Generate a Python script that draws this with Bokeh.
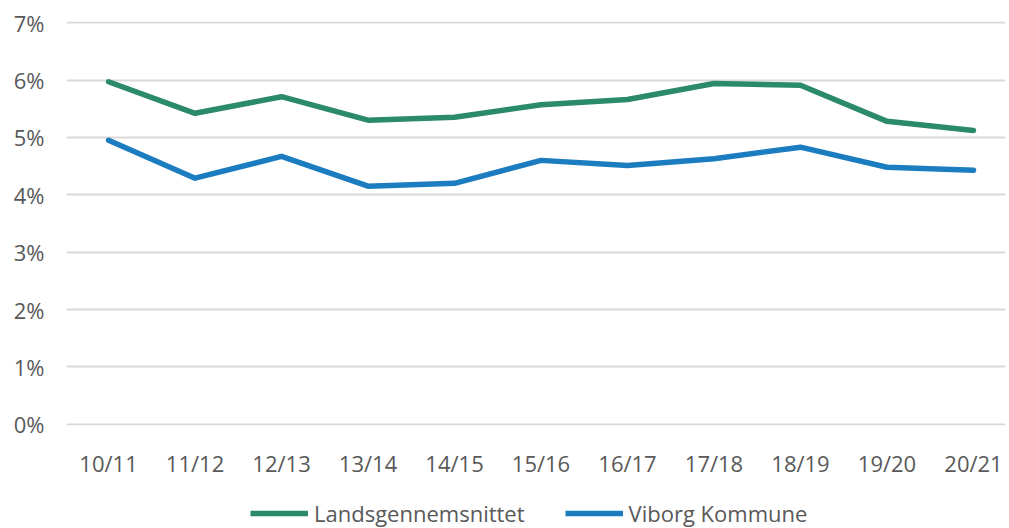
from bokeh.plotting import figure
from bokeh.models import Legend, LegendItem, FixedTicker
from bokeh.layouts import column
from bokeh.embed import file_html
from bokeh.resources import INLINE

categories = ["10/11", "11/12", "12/13", "13/14", "14/15", "15/16", "16/17", "17/18", "18/19", "19/20", "20/21"]
landsgennemsnit = [5.97, 5.42, 5.71, 5.30, 5.35, 5.57, 5.66, 5.94, 5.91, 5.28, 5.12]
viborg = [4.95, 4.29, 4.67, 4.15, 4.20, 4.60, 4.51, 4.63, 4.83, 4.48, 4.43]
y_ticks = [0, 1, 2, 3, 4, 5, 6, 7]
series_names = ["Landsgennemsnittet", "Viborg Kommune"]

FONT = "Open Sans"
TXT = "#595959"
GREEN = "#2b8a68"
BLUE = "#1b7dc0"
FS = "22px"

xs = list(range(len(categories)))

p = figure(width=1009, height=483, output_backend="svg", toolbar_location=None,
           x_range=(-0.486, 10.37), y_range=(-0.02, 7.02),
           min_border_left=66, min_border_right=4, min_border_top=21, min_border_bottom=58)
p.outline_line_color = None
p.background_fill_color = "white"
p.border_fill_color = "white"

p.line(xs, landsgennemsnit, line_color=GREEN, line_width=5.5, line_join="round", line_cap="round")
p.line(xs, viborg, line_color=BLUE, line_width=5.5, line_join="round", line_cap="round")

p.xaxis.ticker = FixedTicker(ticks=xs)
p.xaxis.major_label_overrides = {i: c for i, c in enumerate(categories)}
p.yaxis.ticker = FixedTicker(ticks=y_ticks)
p.yaxis.major_label_overrides = {t: f"{t}%" for t in y_ticks}

for ax in (p.xaxis[0], p.yaxis[0]):
    ax.axis_line_color = None
    ax.major_tick_line_color = None
    ax.minor_tick_line_color = None
    ax.major_tick_out = 0
    ax.major_tick_in = 0
    ax.major_label_text_font = FONT
    ax.major_label_text_font_size = FS
    ax.major_label_text_color = TXT
p.xaxis.major_label_standoff = 22
p.yaxis.major_label_standoff = 22

p.xgrid.grid_line_color = None
p.ygrid.ticker = FixedTicker(ticks=y_ticks)
p.ygrid.grid_line_color = "#d9d9d9"
p.ygrid.grid_line_width = 2

# legend strip below the chart (series drawn out of view, only the legend shows)
lg = figure(width=1009, height=45, output_backend="svg", toolbar_location=None,
            x_range=(-0.486, 10.37), y_range=(-20, -19),
            min_border_left=0, min_border_right=0, min_border_top=0, min_border_bottom=0)
lg.axis.visible = False
lg.grid.visible = False
lg.outline_line_color = None
lg.border_fill_color = "white"
lg.background_fill_color = "white"
g1 = lg.line(xs, landsgennemsnit, line_color=GREEN, line_width=5.5)
g2 = lg.line(xs, viborg, line_color=BLUE, line_width=5.5)

legend = Legend(items=[LegendItem(label=series_names[0], renderers=[g1]),
                       LegendItem(label=series_names[1], renderers=[g2])],
                orientation="horizontal", location=(184, 0),
                label_text_font=FONT, label_text_font_size=FS, label_text_color=TXT,
                glyph_width=58, glyph_height=20, label_standoff=6, spacing=40,
                padding=0, margin=0, border_line_color=None, background_fill_alpha=0)
lg.add_layout(legend, "center")

open("out.html", "w").write(file_html(column(p, lg, spacing=0), INLINE))
